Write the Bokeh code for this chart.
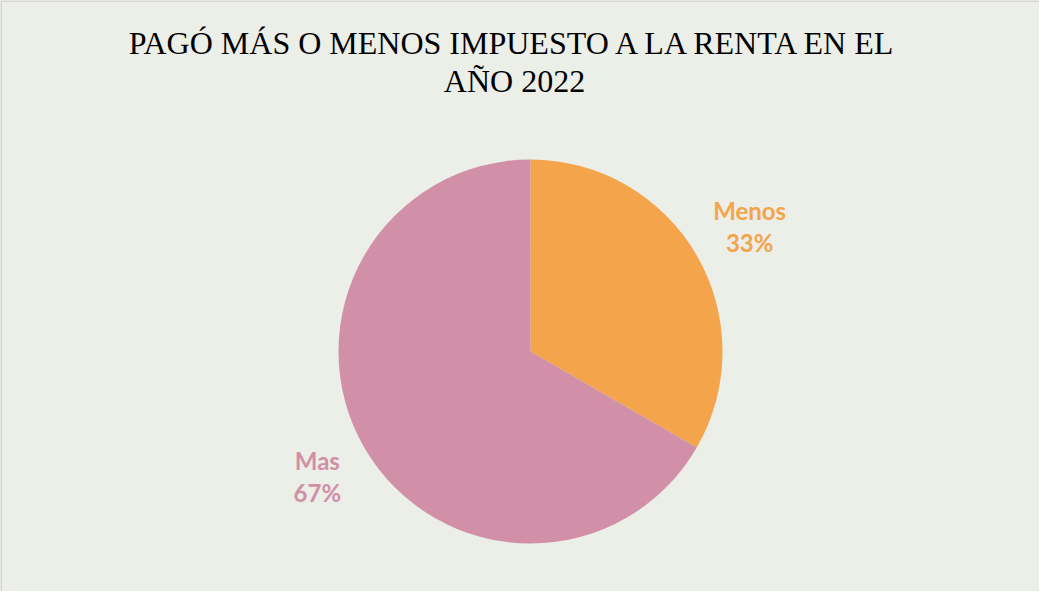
import math
from bokeh.plotting import figure
from bokeh.models import ColumnDataSource, Span
from bokeh.core.properties import value
from bokeh.embed import file_html
from bokeh.resources import INLINE

title_lines = ["PAGÓ MÁS O MENOS IMPUESTO A LA RENTA EN EL", "AÑO 2022"]
categories = ["Menos", "Mas"]
counts = [1, 2]
colors = ["#F4A44A", "#D190A7"]

W, H = 1039, 591
R = 192
p = figure(width=W, height=H, output_backend="svg", toolbar_location=None,
           x_range=(-530, W - 530), y_range=(-(H - 351), 351),
           min_border=0, match_aspect=False)
p.axis.visible = False
p.grid.visible = False
p.background_fill_color = "#ECEEE8"
p.border_fill_color = "#ECEEE8"
p.outline_line_color = None
p.add_layout(Span(location=-529.5, dimension="height", line_color="#D6D6D6", line_width=2))
p.add_layout(Span(location=350.5, dimension="width", line_color="#D6D6D6", line_width=2))

total = sum(counts)
starts, ends, mids, pcts = [], [], [], []
cum = 0
for c in counts:
    a_end = math.pi / 2 - 2 * math.pi * cum / total
    cum += c
    a_start = math.pi / 2 - 2 * math.pi * cum / total
    starts.append(a_start)
    ends.append(a_end)
    mids.append((a_start + a_end) / 2)
    pcts.append(f"{round(100 * c / total)}%")

src = ColumnDataSource(dict(cat=categories, start=starts, end=ends, color=colors, pct=pcts,
                            lx=[1.3 * R * math.cos(m) + 3 for m in mids],
                            ly1=[1.3 * R * math.sin(m) + 16 for m in mids],
                            ly2=[1.3 * R * math.sin(m) - 16 for m in mids]))
p.wedge(x=0, y=0, radius=R, start_angle="start", end_angle="end", color="color",
        line_color=None, source=src)
p.text(x="lx", y="ly1", text="cat", text_color="color", text_font=value("Lato"),
       text_font_style="bold", text_font_size="24px", text_align="center",
       text_baseline="middle", source=src)
p.text(x="lx", y="ly2", text="pct", text_color="color", text_font=value("Lato"),
       text_font_style="bold", text_font_size="24px", text_align="center",
       text_baseline="middle", source=src)

p.text(x=[-16, -16], y=[309, 271], text=title_lines, text_color="#000000",
       text_font=value("Liberation Serif"), text_font_size="32px",
       text_align="center", text_baseline="alphabetic")

open("out.html", "w").write(file_html(p, INLINE))
